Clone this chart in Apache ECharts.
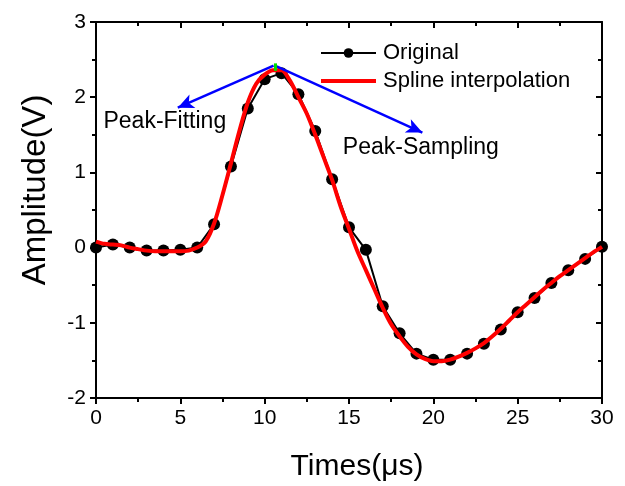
<!DOCTYPE html>
<html>
<head>
<meta charset="utf-8">
<script src="https://cdn.jsdelivr.net/npm/echarts@6/dist/echarts.min.js"></script>
<style>html,body{margin:0;padding:0;background:#fff}#c{width:625px;height:486px}</style>
</head>
<body>
<div id="c"></div>
<script>
// Original samples (x = time in µs, y = amplitude in V)
var origX = [0,1,2,3,4,5,6,7,8,9,10,11,12,13,14,15,16,17,18,19,20,21,22,23,24,25,26,27,28,29,30];
var origY = [0.00,0.04,0.00,-0.04,-0.04,-0.03,0.00,0.31,1.08,1.85,2.24,2.32,2.04,1.55,0.91,0.27,-0.03,-0.78,-1.14,-1.41,-1.49,-1.49,-1.41,-1.28,-1.09,-0.86,-0.67,-0.47,-0.30,-0.15,0.01];
// Spline interpolation (0.5 µs step)
var splX = [0,0.5,1,1.5,2,2.5,3,3.5,4,4.5,5,5.5,6,6.5,7,7.5,8,8.5,9,9.5,10,10.5,11,11.5,12,12.5,13,13.5,14,14.5,15,15.5,16,16.5,17,17.5,18,18.5,19,19.5,20,20.5,21,21.5,22,22.5,23,23.5,24,24.5,25,25.5,26,26.5,27,27.5,28,28.5,29,29.5,30];
var splY = [0.08,0.05,0.04,0.03,0.00,-0.02,-0.04,-0.05,-0.05,-0.05,-0.05,-0.04,0.00,0.08,0.32,0.70,1.12,1.55,1.93,2.18,2.30,2.36,2.36,2.22,2.00,1.78,1.50,1.20,0.90,0.55,0.25,-0.05,-0.30,-0.55,-0.80,-1.02,-1.18,-1.32,-1.42,-1.48,-1.51,-1.51,-1.49,-1.45,-1.40,-1.34,-1.27,-1.18,-1.08,-0.97,-0.86,-0.76,-0.66,-0.56,-0.47,-0.38,-0.30,-0.22,-0.14,-0.06,0.01];
var xTicks = [0,5,10,15,20,25,30];
var yTicks = [-2,-1,0,1,2,3];
// Annotation anchors (data coordinates)
var peakMark = [[10.62,2.35],[10.62,2.45]];
var arrowFit = [[10.53,2.42],[4.85,1.86]];
var arrowSamp = [[10.71,2.41],[19.35,1.53]];
var labelFit = [4.08,1.67];
var labelSamp = [19.26,1.33];

function zip(a,b){return a.map(function(v,i){return [v,b[i]];});}
var FONT = 'Liberation Sans, Arial, sans-serif';
var chart = echarts.init(document.getElementById('c'));
var axisLine = {show:true, onZero:false, lineStyle:{color:'#000', width:2}};
var lineIcon = 'path://M0,0 L0.5,0 L0.5,0.01 Z M0,4 L55,4 L55,8 L0,8 Z M0,12 L0.5,12 L0.5,11.99 Z';
chart.setOption({
  animation:false,
  backgroundColor:'#fff',
  grid:{left:96, right:23, top:22, bottom:88, outerBoundsMode:'none', containLabel:false},
  legend:{
    orient:'vertical', left:315, top:37, itemGap:6, itemWidth:55, itemHeight:12,
    textStyle:{fontFamily:FONT, fontSize:22, color:'#000', padding:[0,0,0,2]},
    data:[{name:'Original'},{name:'Spline interpolation', icon:lineIcon}]
  },
  xAxis:[{
    type:'value', min:0, max:30, interval:5, position:'bottom',
    name:'Times(\u03bcs)', nameLocation:'middle', nameGap:54,
    nameTextStyle:{fontFamily:FONT, fontSize:30, color:'#000', padding:[0,0,0,16]},
    axisLine:axisLine,
    axisTick:{show:true, inside:false, length:6, lineStyle:{color:'#000', width:2}},
    minorTick:{show:true, splitNumber:2, length:4, lineStyle:{color:'#000', width:2}},
    axisLabel:{fontFamily:FONT, fontSize:21, color:'#000', margin:10},
    splitLine:{show:false}
  },{
    type:'value', min:0, max:30, interval:5, position:'top',
    axisLine:axisLine,
    axisTick:{show:true, inside:true, length:6, lineStyle:{color:'#000', width:2}},
    minorTick:{show:true, splitNumber:2, length:4, lineStyle:{color:'#000', width:2}},
    axisLabel:{show:false}, splitLine:{show:false}
  }],
  yAxis:[{
    type:'value', min:-2, max:3, interval:1, position:'left',
    name:'Amplitude(V)', nameLocation:'middle', nameGap:44,
    nameTextStyle:{fontFamily:FONT, fontSize:33, color:'#000', padding:[0,0,0,40]},
    axisLine:axisLine,
    axisTick:{show:true, inside:false, length:6, lineStyle:{color:'#000', width:2}},
    minorTick:{show:true, splitNumber:2, length:4, lineStyle:{color:'#000', width:2}},
    axisLabel:{fontFamily:FONT, fontSize:21, color:'#000', margin:10},
    splitLine:{show:false}
  },{
    type:'value', min:-2, max:3, interval:1, position:'right',
    axisLine:axisLine,
    axisTick:{show:true, inside:true, length:6, lineStyle:{color:'#000', width:2}},
    minorTick:{show:true, splitNumber:2, length:4, lineStyle:{color:'#000', width:2}},
    axisLabel:{show:false}, splitLine:{show:false}
  }],
  series:[{
    name:'Original', type:'line', data:zip(origX,origY),
    symbol:'circle', symbolSize:12, showAllSymbol:true,
    lineStyle:{color:'#000', width:2}, itemStyle:{color:'#000'}, z:2
  },{
    name:'Spline interpolation', type:'line', data:zip(splX,splY),
    symbol:'none', smooth:0.3,
    lineStyle:{color:'#ff0000', width:4}, itemStyle:{color:'#ff0000'}, z:3,
    markLine:{
      silent:true, animation:false, label:{show:false},
      data:[
        [{coord:arrowFit[0], symbol:'none'},{coord:arrowFit[1], symbol:'arrow', symbolSize:[11,16]}],
        [{coord:arrowSamp[0], symbol:'none'},{coord:arrowSamp[1], symbol:'arrow', symbolSize:[11,16]}],
        [{coord:peakMark[0], symbol:'none', lineStyle:{color:'#00dd00', width:3}},{coord:peakMark[1], symbol:'none'}]
      ],
      lineStyle:{color:'#0000ff', width:2.5, type:'solid'},
      itemStyle:{color:'#0000ff'}
    },
    markPoint:{
      silent:true, symbol:'circle', symbolSize:0,
      label:{show:true, position:'inside', fontFamily:FONT, fontSize:23, color:'#000'},
      data:[
        {coord:labelFit, value:'Peak-Fitting', label:{formatter:'Peak-Fitting'}},
        {coord:labelSamp, value:'Peak-Sampling', label:{formatter:'Peak-Sampling'}}
      ]
    }
  }]
});
</script>
</body>
</html>
